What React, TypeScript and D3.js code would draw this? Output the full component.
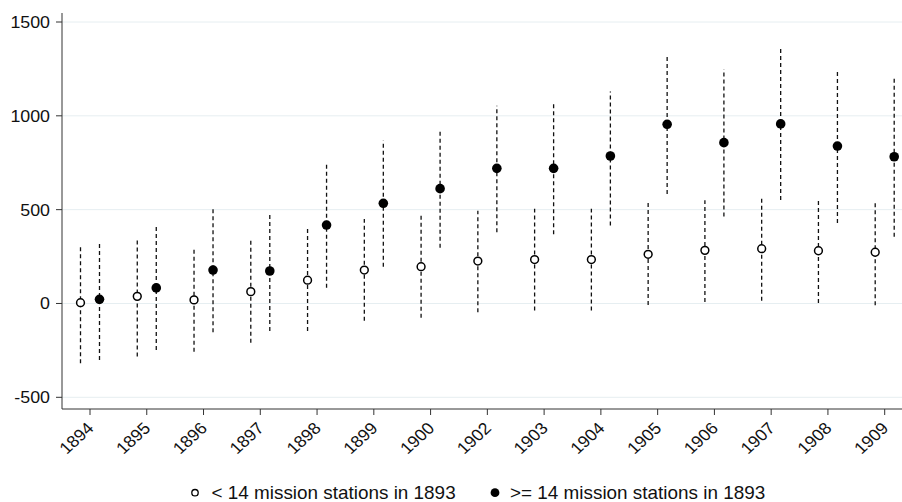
import React from "react";
import * as d3 from "d3";

// Survey years (1901 not observed)
const years = ["1894", "1895", "1896", "1897", "1898", "1899", "1900", "1902", "1903", "1904", "1905", "1906", "1907", "1908", "1909"];

// Group with fewer than 14 mission stations in 1893
const lowEst = [4, 38, 19, 63, 124, 178, 196, 226, 234, 234, 262, 283, 292, 281, 273];
const lowLo = [-319, -283, -257, -209, -147, -92, -76, -47, -38, -38, -8, 8, 15, 3, -10];
const lowHi = [312, 347, 289, 338, 397, 450, 468, 494, 505, 505, 536, 550, 560, 546, 536];

// Group with at least 14 mission stations in 1893
const highEst = [22, 83, 178, 173, 418, 534, 612, 720, 720, 786, 955, 857, 957, 839, 782];
const highLo = [-301, -248, -153, -147, 84, 196, 297, 379, 369, 415, 583, 463, 551, 429, 356];
const highHi = [333, 413, 507, 486, 754, 868, 925, 1054, 1072, 1130, 1329, 1248, 1358, 1234, 1205];

const yTicks = [-500, 0, 500, 1000, 1500];
const legendLabels = ["< 14 mission stations in 1893", ">= 14 mission stations in 1893"];

const W = 902;
const H = 502;
const plotLeft = 62;
const plotRight = 902;
const plotTop = 13;
const plotBottom = 409;
const FONT = "'Liberation Sans', Arial, Helvetica, sans-serif";
// text is drawn slightly wide, as in the exported graph
const SX = 1.08;

export default function App() {
  const x = d3.scalePoint<string>().domain(years).range([90, 884.7]);
  const y = d3.scaleLinear().domain([-500, 1500]).range([397.3, 22]);
  const off = 9.5;

  const series = [
    { est: lowEst, lo: lowLo, hi: lowHi, dx: -off, filled: false },
    { est: highEst, lo: highLo, hi: highHi, dx: off, filled: true },
  ];

  return (
    <div style={{ position: "absolute", left: 0, top: 0 }}>
      <svg width={W} height={H} style={{ display: "block", background: "#fff" }} fontFamily={FONT}>
        {/* gridlines */}
        {yTicks.map((t) => (
          <line key={"g" + t} x1={plotLeft} x2={plotRight} y1={y(t)} y2={y(t)} stroke="#e6eef1" strokeWidth={1} />
        ))}
        {/* y axis */}
        <line x1={plotLeft} x2={plotLeft} y1={plotTop} y2={plotBottom} stroke="#333" strokeWidth={1} />
        {yTicks.map((t) => (
          <g key={"y" + t}>
            <line x1={plotLeft - 6} x2={plotLeft} y1={y(t)} y2={y(t)} stroke="#333" strokeWidth={1} />
            <text
              transform={`translate(${plotLeft - 12},${y(t)}) scale(${SX},1)`}
              dy="0.36em"
              textAnchor="end"
              fontSize={16.5}
              fill="#111"
            >
              {t}
            </text>
          </g>
        ))}
        {/* x axis */}
        <line x1={plotLeft} x2={plotRight} y1={plotBottom} y2={plotBottom} stroke="#333" strokeWidth={1} />
        {years.map((yr) => {
          const px = x(yr) as number;
          return (
            <g key={"x" + yr}>
              <line x1={px} x2={px} y1={plotBottom} y2={plotBottom + 6} stroke="#333" strokeWidth={1} />
              <text
                transform={`translate(${px - 4},${plotBottom + 12}) scale(${SX},1) rotate(-45)`}
                textAnchor="end"
                dy="0.7em"
                fontSize={16.5}
                fill="#111"
              >
                {yr}
              </text>
            </g>
          );
        })}
        {/* confidence intervals */}
        {series.map((s, si) =>
          years.map((yr, i) => {
            const px = (x(yr) as number) + s.dx;
            return (
              <line
                key={`ci${si}-${yr}`}
                x1={px}
                x2={px}
                y1={y(s.lo[i])}
                y2={y(s.hi[i])}
                stroke="#111"
                strokeWidth={1.3}
                strokeDasharray="4,3"
              />
            );
          })
        )}
        {/* point estimates */}
        {series.map((s, si) =>
          years.map((yr, i) => {
            const px = (x(yr) as number) + s.dx;
            return s.filled ? (
              <circle key={`p${si}-${yr}`} cx={px} cy={y(s.est[i])} r={4.8} fill="#000" />
            ) : (
              <circle key={`p${si}-${yr}`} cx={px} cy={y(s.est[i])} r={3.9} fill="#fff" stroke="#000" strokeWidth={1.5} />
            );
          })
        )}
        {/* legend */}
        <circle cx={195} cy={492.7} r={3.2} fill="#fff" stroke="#000" strokeWidth={1.3} />
        <text transform={`translate(211.5,499) scale(${SX},1)`} fontSize={17.5} fill="#111">
          {legendLabels[0]}
        </text>
        <circle cx={495} cy={492.7} r={4.4} fill="#000" />
        <text transform={`translate(510,499) scale(${SX},1)`} fontSize={17.5} fill="#111">
          {legendLabels[1]}
        </text>
      </svg>
    </div>
  );
}
